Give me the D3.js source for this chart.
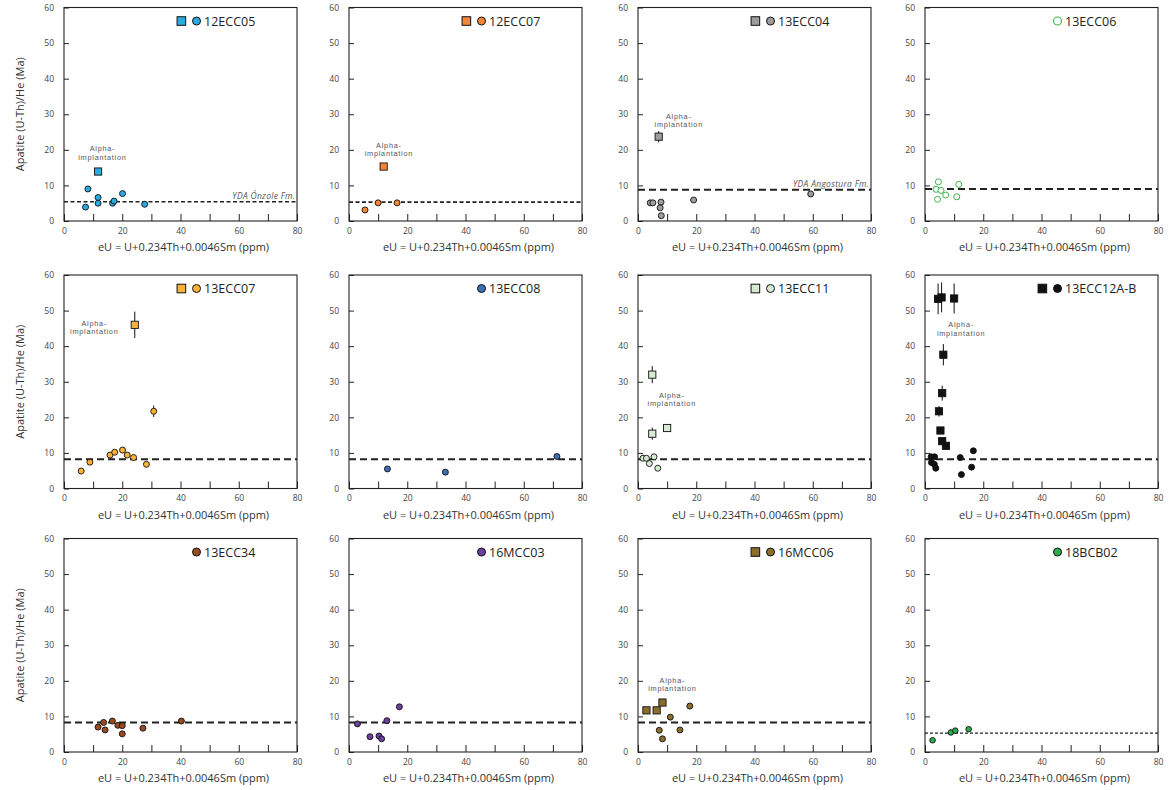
<!DOCTYPE html>
<html><head><meta charset="utf-8">
<script src="https://cdn.jsdelivr.net/npm/d3@7"></script>
<style>
body{margin:0;background:#fff;}
text{font-family:"Open Sans","Noto Sans",sans-serif;}
</style>
</head><body>
<svg id="chart" width="1173" height="790"></svg>
<script>
// ---------- DATA (eU ppm, age Ma, ±error Ma) ----------
const samples = ["12ECC05","12ECC07","13ECC04","13ECC06","13ECC07","13ECC08","13ECC11","13ECC12A-B","13ECC34","16MCC03","16MCC06","18BCB02"];

const c12ECC05 = [[7.4,3.9],[8.2,9.0],[11.7,6.6],[11.7,5.0],[16.7,5.0],[17.2,5.6],[20.1,7.7],[27.7,4.7]];
const q12ECC05 = [[11.7,13.9,0]];
const c12ECC07 = [[5.5,3.1],[10.0,5.1],[16.5,5.1]];
const q12ECC07 = [[11.9,15.3,0]];
const c13ECC04 = [[4.2,5.1],[5.1,5.1],[7.9,5.3],[7.6,3.7],[8.0,1.5],[19.1,5.9],[59.3,7.6]];
const q13ECC04 = [[7.1,23.7,1.6]];
const c13ECC06 = [[4.6,11.0],[3.8,8.9],[5.5,8.6],[4.3,6.1],[7.1,7.3],[10.9,6.8],[11.6,10.3]];
const q13ECC06 = [];
const c13ECC07 = [[5.9,4.9],[8.9,7.4],[15.8,9.4],[17.4,10.2],[20.1,10.8],[21.7,9.4],[23.9,8.7],[28.3,6.8],[30.8,21.7,1.6]];
const q13ECC07 = [[24.3,46.0,3.7]];
const c13ECC08 = [[13.2,5.5],[33.1,4.6],[71.4,9.0]];
const q13ECC08 = [];
const c13ECC11 = [[1.7,8.5],[2.9,8.5],[3.9,7.0],[5.5,8.9],[6.8,5.7]];
const q13ECC11 = [[4.9,32.0,2.4],[4.9,15.4,1.7],[10.0,17.0,1.0]];
const c13ECC12 = [[2.1,8.9],[3.3,8.9],[2.2,7.3],[3.2,6.8],[3.7,5.7],[12.1,8.7],[12.5,3.9],[16.0,6.0],[16.6,10.6]];
const q13ECC12 = [[4.5,53.3,4.3],[5.7,53.7,4.2],[10.0,53.4,4.2],[6.3,37.6,3.0],[5.9,26.8,2.1],[4.8,21.7,1.5],[5.3,16.3,0.8],[5.9,13.3,0.8],[7.2,12.0,0]];
const c13ECC34 = [[11.7,7.0],[13.6,8.3],[14.1,6.2],[16.6,8.7],[18.5,7.5],[20.0,7.4],[20.0,5.1],[27.1,6.7],[40.3,8.7]];
const q13ECC34 = [];
const c16MCC03 = [[2.9,7.9],[7.2,4.3],[10.3,4.5],[11.2,3.7],[13.0,8.8],[17.3,12.7]];
const q16MCC03 = [];
const c16MCC06 = [[11.1,9.8],[7.3,6.1],[8.4,3.7],[14.4,6.2],[17.8,12.9]];
const q16MCC06 = [[2.9,11.7,0],[6.4,11.7,0],[8.4,13.9,0]];
const c18BCB02 = [[2.6,3.3],[8.9,5.5],[10.4,6.0],[15.0,6.4]];
const q18BCB02 = [];

const circleSets = [c12ECC05,c12ECC07,c13ECC04,c13ECC06,c13ECC07,c13ECC08,c13ECC11,c13ECC12,c13ECC34,c16MCC03,c16MCC06,c18BCB02];
const squareSets = [q12ECC05,q12ECC07,q13ECC04,q13ECC06,q13ECC07,q13ECC08,q13ECC11,q13ECC12,q13ECC34,q16MCC03,q16MCC06,q18BCB02];

// youngest depositional ages (dashed lines), Ma
const ydaAges = [5.4,5.3,8.8,9.0,8.2,8.2,8.2,8.2,8.3,8.3,8.3,5.3];
const ydaNames = ["YDA Ónzole Fm.","","YDA Angostura Fm.","","","","","","","","",""];

// "Alpha-implantation" note anchors (eU, age) or null
const alphaNotes = [[13.2,20.2],[13.7,21.2],[14.0,29.2],null,[10.4,46.3],null,[11.6,26.0],[12.4,45.9],null,null,[11.8,20.0],null];
const alphaLines = ["Alpha-","implantation"];

const xTicks = [0,10,20,30,40,50,60,70,80];
const xTickLabels = [0,20,40,60,80];
const yTicks = [0,10,20,30,40,50,60];
const xTitle = "eU = U+0.234Th+0.0046Sm (ppm)";
const yTitle = "Apatite (U-Th)/He (Ma)";

// ---------- STYLES ----------
const fills = ["#29abe2","#f58634","#9d9d9d","#ffffff","#fbb337","#3d6db5","#d5ebd2","#111111","#9c4a22","#6b3f9c","#8c6d2c","#2bab4d"];
const strokes = ["#111","#111","#111","#3cb54a","#111","#111","#111","#111","#111","#111","#111","#111"];
const dashStyles = [["4,2.5",1.6],["4,2.5",1.6],["7,4",2],["7,4",2],["7,4",2],["7,4",2],["7,4",2],["7,4",2],["7,4",2],["7,4",2],["7,4",2],["3,2",1.2]];

const colLeft = [64, 349, 638, 925];
const rowTop = [7.5, 275, 538.5];
const W = 233, H = 213.5;

const svg = d3.select("#chart");

samples.forEach((name, i) => {
  const col = i % 4, row = Math.floor(i / 4);
  const g = svg.append("g").attr("transform", `translate(${colLeft[col]},${rowTop[row]})`);
  const x = d3.scaleLinear().domain([0, 80]).range([0, W]);
  const y = d3.scaleLinear().domain([0, 60]).range([H, 0]);

  // axes
  const ya = g.append("g").call(d3.axisLeft(y).tickValues(yTicks).tickSize(-5).tickSizeOuter(0).tickPadding(10));
  const xa = g.append("g").attr("transform", `translate(0,${H})`)
    .call(d3.axisBottom(x).tickValues(xTicks).tickSize(-7).tickSizeOuter(0).tickPadding(5)
      .tickFormat(d => xTickLabels.includes(d) ? d : ""));
  [ya, xa].forEach(a => {
    a.select(".domain").remove();
    a.selectAll(".tick line").attr("stroke", "#222").attr("stroke-width", 1);
    a.selectAll(".tick text").attr("fill", "#444").style("font-size", "8.5px");
  });
  xa.selectAll(".tick text").attr("dy", "0.9em");

  // box
  g.append("rect").attr("width", W).attr("height", H).attr("fill", "none")
    .attr("stroke", "#222").attr("stroke-width", 1.1);

  // YDA dashed line
  g.append("line").attr("x1", 0).attr("x2", W)
    .attr("y1", y(ydaAges[i])).attr("y2", y(ydaAges[i]))
    .attr("stroke", "#222").attr("stroke-width", dashStyles[i][1])
    .attr("stroke-dasharray", dashStyles[i][0]);
  if (ydaNames[i]) {
    g.append("text").attr("x", x(79.4)).attr("y", y(ydaAges[i]) - 3)
      .attr("text-anchor", "end").attr("fill", "#555")
      .style("font-size", "8.5px").style("font-style", "italic").style("letter-spacing", "0.3px")
      .text(ydaNames[i]);
  }

  // alpha-implantation note (two lines as separate texts)
  if (alphaNotes[i]) {
    alphaLines.forEach((ln, k) => {
      g.append("text").attr("text-anchor", "middle").attr("fill", "#555")
        .style("font-family", "'Liberation Sans', Arial, sans-serif")
        .style("font-size", "7.3px").style("letter-spacing", "0.75px")
        .attr("x", x(alphaNotes[i][0])).attr("y", y(alphaNotes[i][1]) + 2 + k * 8.4)
        .text(ln);
    });
  }

  const all = circleSets[i].concat(squareSets[i]);
  // error bars
  g.selectAll(".err").data(all.filter(d => d[2] > 0)).join("line")
    .attr("x1", d => x(d[0])).attr("x2", d => x(d[0]))
    .attr("y1", d => y(d[1] - d[2])).attr("y2", d => y(d[1] + d[2]))
    .attr("stroke", "#111").attr("stroke-width", 1);

  // circles
  g.selectAll(".c").data(circleSets[i]).join("circle")
    .attr("cx", d => x(d[0])).attr("cy", d => y(d[1])).attr("r", i === 11 ? 2.8 : 3)
    .attr("fill", fills[i]).attr("stroke", strokes[i]).attr("stroke-width", i === 3 ? 1 : 0.9);

  // squares
  const s = 7.2;
  g.selectAll(".q").data(squareSets[i]).join("rect")
    .attr("x", d => x(d[0]) - s / 2).attr("y", d => y(d[1]) - s / 2)
    .attr("width", s).attr("height", s)
    .attr("fill", fills[i]).attr("stroke", strokes[i]).attr("stroke-width", 0.9);

  // legend
  const ly = y(56.2);
  if (squareSets[i].length) {
    g.append("rect").attr("x", x(40.3) - 4.3).attr("y", ly - 4.3).attr("width", 8.6).attr("height", 8.6)
      .attr("fill", fills[i]).attr("stroke", strokes[i]).attr("stroke-width", 1);
  }
  g.append("circle").attr("cx", x(45.5)).attr("cy", ly).attr("r", 4)
    .attr("fill", fills[i]).attr("stroke", strokes[i]).attr("stroke-width", i === 3 ? 1.1 : 1);
  g.append("text").attr("x", x(45.5) + 7.5).attr("y", ly).attr("dy", "0.36em")
    .attr("fill", "#222").style("font-size", "12.5px").text(name);

  // axis titles
  g.append("text").attr("x", W / 2 + 3).attr("y", H + 30).attr("text-anchor", "middle")
    .attr("fill", "#333").style("font-size", "11px").text(xTitle);
  if (col === 0) {
    g.append("text").attr("transform", `translate(${20 - colLeft[0]},${H / 2}) rotate(-90)`)
      .attr("text-anchor", "middle").attr("dy", "0.35em")
      .attr("fill", "#333").style("font-size", "11px").text(yTitle);
  }
});
</script>
</body></html>
